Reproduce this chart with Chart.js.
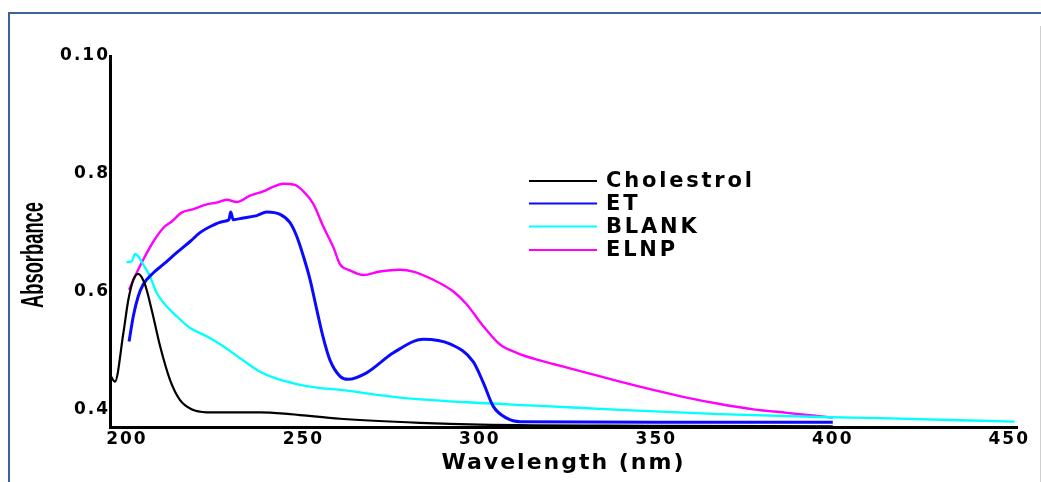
<!DOCTYPE html>
<html>
<head>
<meta charset="utf-8">
<script src="https://cdn.jsdelivr.net/npm/chart.js@4/dist/chart.umd.min.js"></script>
<style>
  body { margin: 0; background: #fff; }
  canvas { display: block; }
</style>
</head>
<body>
<canvas id="spectrum" width="1041" height="482"></canvas>
<script>
// wavelength (nm) / absorbance
const cholWl  = [195.2,196.6,199.0,200.4,201.8,203.2,205.1,207.0,209.4,212.2,215.0,218.3,222.6,237.7,246.2,260.4,283.0,300.0,350.0,400.0];
const cholAbs = [0.459,0.447,0.530,0.586,0.620,0.630,0.612,0.569,0.507,0.450,0.416,0.400,0.395,0.395,0.392,0.384,0.377,0.374,0.372,0.371];

const etWl  = [200.6,201.8,203.2,204.6,207.5,210.3,214.1,217.9,220.7,223.5,227.3,228.9,229.4,230.1,233.0,236.8,239.6,243.4,246.2,248.1,250.0,251.9,253.8,255.6,257.5,260.4,262.7,267.9,275.5,284.0,291.5,298.1,301.0,303.8,307.6,311.4,350.0,400.0];
const etAbs = [0.515,0.558,0.592,0.612,0.632,0.646,0.666,0.685,0.700,0.710,0.719,0.722,0.735,0.722,0.725,0.729,0.735,0.731,0.717,0.694,0.660,0.620,0.569,0.522,0.484,0.456,0.451,0.462,0.496,0.519,0.511,0.481,0.445,0.405,0.385,0.379,0.378,0.378];

const blankWl  = [199.9,201.3,202.3,203.2,204.6,206.5,208.4,210.8,214.1,217.9,222.6,227.3,232.0,237.7,242.4,248.1,253.8,260.4,277.4,296.3,317.0,339.7,368.0,396.4,413.4,451.5];
const blankAbs = [0.650,0.651,0.664,0.660,0.646,0.626,0.598,0.578,0.558,0.538,0.524,0.507,0.487,0.464,0.452,0.443,0.437,0.433,0.420,0.412,0.406,0.399,0.392,0.387,0.385,0.379];

const elnpWl  = [200.6,202.3,204.6,207.5,210.3,212.7,215.5,218.8,222.6,225.4,228.3,231.1,234.9,238.6,241.5,244.3,247.6,250.0,252.8,255.6,258.5,260.4,263.2,267.0,271.7,277.4,281.1,286.8,292.5,296.3,301.0,305.7,310.4,317.0,320.8,330.3,339.7,349.1,358.6,368.0,377.5,387.0,400.0];
const elnpAbs = [0.603,0.626,0.654,0.685,0.708,0.719,0.734,0.740,0.748,0.751,0.756,0.752,0.763,0.770,0.778,0.783,0.781,0.770,0.749,0.711,0.675,0.646,0.636,0.628,0.634,0.637,0.634,0.620,0.600,0.578,0.541,0.510,0.496,0.483,0.477,0.462,0.447,0.433,0.420,0.409,0.400,0.394,0.386];

const seriesNames = ["Cholestrol", "ET", "BLANK", "ELNP"];
const seriesColors = ["#000000", "#0a0aff", "#00ffff", "#ff00ff"];

const xTicks = [200, 250, 300, 350, 400, 450];
const yTicks = [0.4, 0.6, 0.8, 1.0];
const yTickLabels = ["0.4", "0.6", "0.8", "0.10"];

function pts(xs, ys) {
  return xs.map((x, i) => ({x: x, y: ys[i]}));
}

const frame = {
  id: "frame",
  beforeDraw(chart) {
    const ctx = chart.ctx;
    ctx.save();
    ctx.fillStyle = "#fff";
    ctx.fillRect(0, 0, chart.width, chart.height);
    ctx.strokeStyle = "#41619c";
    ctx.lineWidth = 2;
    ctx.beginPath();
    ctx.moveTo(9, 482);
    ctx.lineTo(9, 13);
    ctx.lineTo(1041, 13);
    ctx.stroke();
    ctx.strokeStyle = "#cfcfcf";
    ctx.lineWidth = 1;
    ctx.beginPath();
    ctx.moveTo(1040.5, 26);
    ctx.lineTo(1040.5, 482);
    ctx.stroke();
    ctx.restore();
    // wide lettering for ticks and titles
    ctx.letterSpacing = "2px";
  },
  afterDraw(chart) {
    const ctx = chart.ctx;
    ctx.letterSpacing = "0px";
    // legend
    ctx.save();
    ctx.font = "bold 21px 'DejaVu Sans'";
    ctx.letterSpacing = "2.8px";
    ctx.textBaseline = "middle";
    const rows = [181, 203.5, 226.5, 250];
    chart.data.datasets.forEach((ds, i) => {
      ctx.strokeStyle = ds.borderColor;
      ctx.lineWidth = 1.8;
      ctx.beginPath();
      ctx.moveTo(529, rows[i]);
      ctx.lineTo(597, rows[i]);
      ctx.stroke();
      ctx.fillStyle = "#000";
      ctx.fillText(ds.label, 606, rows[i] + 1);
    });
    ctx.restore();
    // y title, condensed
    ctx.save();
    ctx.font = "bold 31px 'Liberation Sans'";
    ctx.letterSpacing = "0px";
    const w = ctx.measureText("Absorbance").width;
    ctx.translate(34, 255);
    ctx.rotate(-Math.PI / 2);
    ctx.scale(106 / w, 1);
    ctx.textAlign = "center";
    ctx.textBaseline = "middle";
    ctx.fillStyle = "#000";
    ctx.fillText("Absorbance", 0, 0);
    ctx.restore();
  }
};

const widths = [2.2, 3, 2.3, 2.4];

new Chart("spectrum", {
  type: "line",
  data: {
    datasets: [
      {label: seriesNames[0], data: pts(cholWl, cholAbs)},
      {label: seriesNames[1], data: pts(etWl, etAbs)},
      {label: seriesNames[2], data: pts(blankWl, blankAbs)},
      {label: seriesNames[3], data: pts(elnpWl, elnpAbs)}
    ].map((d, i) => Object.assign(d, {
      borderColor: seriesColors[i],
      borderWidth: widths[i],
      pointRadius: 0,
      fill: false,
      cubicInterpolationMode: "monotone"
    }))
  },
  options: {
    responsive: false,
    animation: false,
    layout: {padding: {left: 10, right: 24, top: 56, bottom: 0}},
    plugins: {legend: {display: false}, tooltip: {enabled: false}},
    scales: {
      x: {
        type: "linear",
        min: 195.2,
        max: 452.2,
        afterBuildTicks: s => { s.ticks = xTicks.map(v => ({value: v})); },
        afterFit: s => { s.height = 55; },
        grid: {display: false, drawTicks: false},
        border: {display: true, color: "#000", width: 3},
        ticks: {
          color: "#000",
          padding: 2,
          maxRotation: 0,
          font: {family: "DejaVu Sans", weight: "bold", size: 17}
        },
        title: {
          display: true,
          text: "Wavelength (nm)",
          color: "#000",
          padding: {top: 0, bottom: 6},
          font: {family: "DejaVu Sans", weight: "bold", size: 22}
        }
      },
      y: {
        min: 0.37,
        max: 1.0,
        afterBuildTicks: s => { s.ticks = yTicks.map(v => ({value: v})); },
        afterFit: s => { s.width = 100; },
        grid: {display: false, drawTicks: false},
        border: {display: true, color: "#000", width: 3},
        ticks: {
          color: "#000",
          padding: 0,
          callback: v => yTickLabels[yTicks.indexOf(v)],
          font: {family: "DejaVu Sans", weight: "bold", size: 17}
        }
      }
    }
  },
  plugins: [frame]
});
</script>
</body>
</html>
